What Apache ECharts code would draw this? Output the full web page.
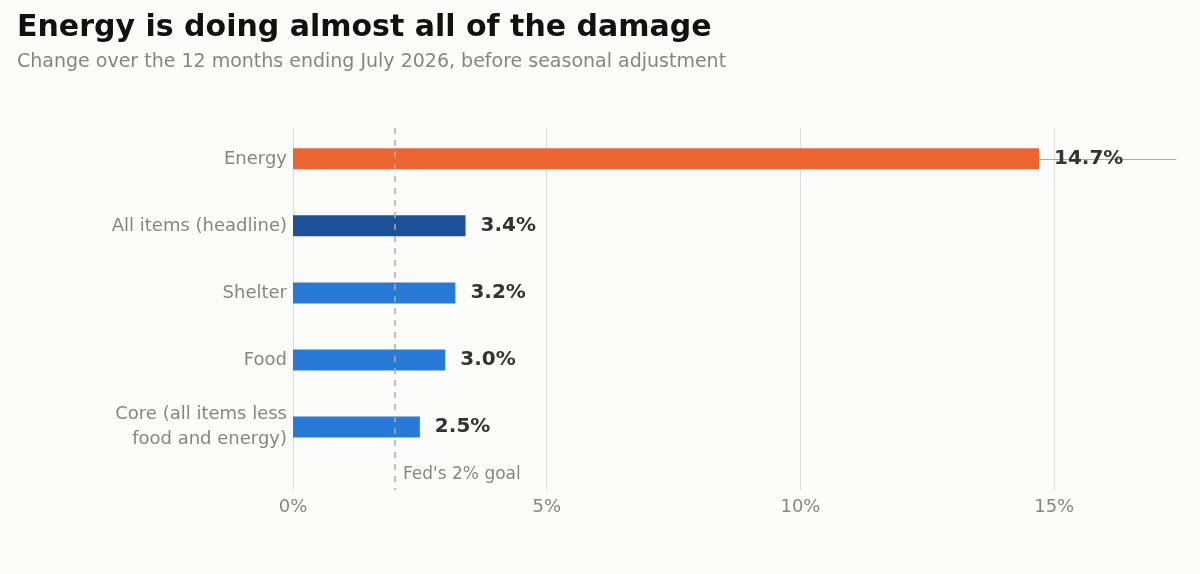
<!DOCTYPE html>
<html>
<head>
<meta charset="utf-8">
<script src="https://cdn.jsdelivr.net/npm/echarts@6/dist/echarts.min.js"></script>
<style>
  html, body { margin: 0; padding: 0; background: #fcfcfa; }
  #main { width: 1200px; height: 574px; }
</style>
</head>
<body>
<div id="main"></div>
<script>
  // 12-month change, percent
  const rows = [
    { name: 'Energy', value: 14.7, color: '#EC6631' },
    { name: 'All items (headline)', value: 3.4, color: '#1B5298' },
    { name: 'Shelter', value: 3.2, color: '#2979D6' },
    { name: 'Food', value: 3.0, color: '#2979D6' },
    { name: 'Core (all items less\nfood and energy)', value: 2.5, color: '#2979D6' }
  ]
  const font = 'DejaVu Sans'

  const myChart = echarts.init(document.querySelector('#main'))
  myChart.setOption({
    backgroundColor: '#fcfcfa',
    textStyle: { fontFamily: font },
    title: [
      { text: 'Energy is doing almost all of the damage', left: 12, top: 8,
        textStyle: { fontSize: 30, fontWeight: 'bold', color: '#111', fontFamily: font } },
      { text: 'Change over the 12 months ending July 2026, before seasonal adjustment', left: 12, top: 48,
        textStyle: { fontSize: 19, fontWeight: 'normal', color: '#858585', fontFamily: font } }
    ],
    grid: { left: 293, right: 24, top: 128, bottom: 84 },
    xAxis: {
      type: 'value', min: 0, max: 17.4, interval: 5,
      axisLine: { show: true, lineStyle: { color: '#aaa' } },
      axisTick: { show: false },
      axisLabel: {
        fontSize: 18, color: '#858585', margin: 8,
        formatter: v => (v % 5 === 0 ? v + '%' : '')
      },
      splitLine: { show: true, showMaxLine: false, lineStyle: { color: '#dddddd' } }
    },
    yAxis: { type: 'value', inverse: true, min: -0.46, max: 4.94, show: false },
    graphic: [
      { type: 'text', left: 403, top: 466,
        style: { text: "Fed's 2% goal", fontSize: 17, fill: '#858585', fontFamily: font } }
    ],
    series: [{
      type: 'custom',
      data: rows.map((r, i) => [r.value, i]),
      renderItem: function(params, api) {
        const i = api.value(1)
        const v = api.value(0)
        const p0 = api.coord([0, i])
        const p1 = api.coord([v, i])
        const r = rows[i]
        return {
          type: 'group',
          children: [
            { type: 'rect', shape: { x: p0[0], y: p0[1] - 10.5, width: p1[0] - p0[0], height: 21 },
              style: { fill: r.color } },
            { type: 'text', x: p1[0] + 15, y: p1[1],
              style: { text: v.toFixed(1) + '%', fontSize: 20, fontWeight: 'bold', fill: '#333',
                fontFamily: font, verticalAlign: 'middle', align: 'left' } },
            { type: 'text', x: p0[0] - 6, y: p0[1],
              style: { text: r.name, fontSize: 18, fill: '#858585', fontFamily: font,
                verticalAlign: 'middle', align: 'right', lineHeight: 25 } }
          ]
        }
      },
      markLine: {
        silent: true, symbol: 'none', label: { show: false },
        lineStyle: { type: [6, 6], color: '#aaaaaa', width: 1.5 },
        data: [{ xAxis: 2 }]
      }
    }]
  })
</script>
</body>
</html>
